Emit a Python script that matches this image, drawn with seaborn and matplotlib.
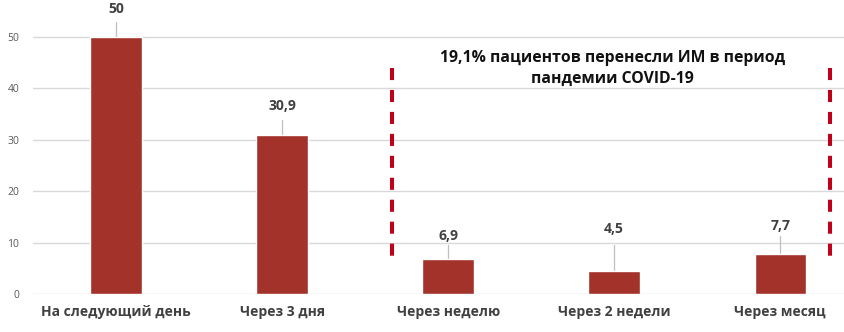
import matplotlib
matplotlib.use("Agg")
import matplotlib.pyplot as plt
import seaborn as sns
import pandas as pd

categories = ["На следующий день", "Через 3 дня", "Через неделю", "Через 2 недели", "Через месяц"]
values = [50, 30.9, 6.9, 4.5, 7.7]
value_labels = ["50", "30,9", "6,9", "4,5", "7,7"]
y_ticks = [0, 10, 20, 30, 40, 50]
note_text = "19,1% пациентов перенесли ИМ в период\nпандемии COVID-19"

# label placement (style): label centre y and leader line top y in data units
label_y = [55.5, 36.5, 11.3, 12.6, 13.2]
leader_top = [52.9, 33.8, 9.5, 9.5, 11.3]

sns.set_theme(style="white")
plt.rcParams['font.family'] = ['Open Sans', 'DejaVu Sans']

fig = plt.figure(figsize=(8.45, 3.32), dpi=100)
ax = fig.add_axes([33 / 845, 38 / 332, 1 - 33 / 845, 294 / 332])

df = pd.DataFrame({"cat": categories, "val": values})
sns.barplot(data=df, x="cat", y="val", color="#A3332A", saturation=1, width=0.31, ax=ax, zorder=3)

ax.set_xlim(-0.5, 4.39)
ax.set_ylim(0, 57.2)
ax.set_yticks(y_ticks)
ax.set_yticklabels([str(t) for t in y_ticks], color="#595959", fontsize=7.5)
ax.yaxis.grid(True, color="#d9d9d9", linewidth=1, zorder=0)
ax.set_xlabel("")
ax.set_ylabel("")
for s in ax.spines.values():
    s.set_visible(False)
ax.tick_params(axis="y", length=0, pad=10)
ax.tick_params(axis="x", length=0, pad=8)
ax.set_xticks(range(len(categories)))
ax.set_xticklabels(categories, fontsize=10, fontweight="bold", color="#404040")

for i, (v, lab) in enumerate(zip(values, value_labels)):
    ax.plot([i, i], [v, leader_top[i]], color="#bfbfbf", linewidth=0.9, zorder=2)
    ax.text(i, label_y[i], lab, ha="center", va="center", fontsize=10, fontweight="bold",
            color="#404040", clip_on=False)

for xd in [1.663, 4.30]:
    ax.plot([xd, xd], [43.9, 7.4], color="#C0001A", linewidth=2.9,
            linestyle=(0, (3.0, 2.45)), dash_capstyle="butt", zorder=4)

ax.text(2.99, 43.9, note_text, ha="center", va="center", fontsize=11.3, fontweight="bold",
        color="#111111", linespacing=1.4)

fig.savefig("out.png", dpi=100)
